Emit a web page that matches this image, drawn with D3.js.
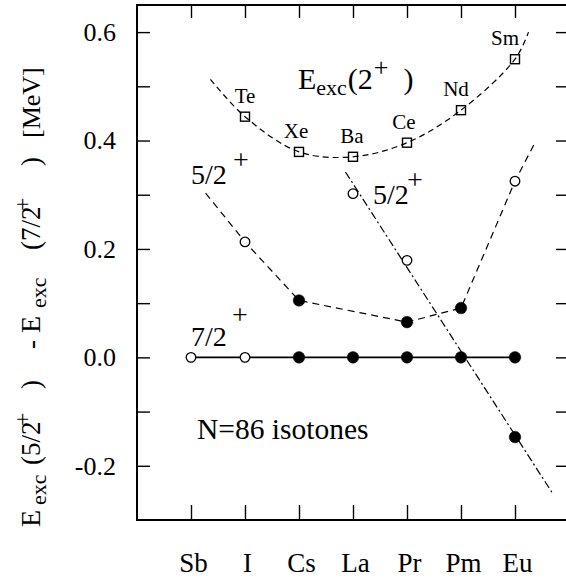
<!DOCTYPE html>
<html><head><meta charset="utf-8">
<script src="https://cdn.jsdelivr.net/npm/d3@7/dist/d3.min.js"></script>
<style>
html,body{margin:0;padding:0;background:#fff;}
svg text{font-family:"Liberation Serif","Times New Roman",serif;fill:#000;white-space:pre;}
</style></head>
<body><svg id="c" width="566" height="582"></svg>
<script>
// ---------- data ----------
const categories = ["Sb","I","Cs","La","Pr","Pm","Eu"];
const yTickValues = [-0.2,-0.1,0.0,0.1,0.2,0.3,0.4,0.5,0.6];
const yTickLabels = ["-0.2","0.0","0.2","0.4","0.6"];
const yLabelValues = [-0.2,0.0,0.2,0.4,0.6];

// 7/2+ reference line (all zero)
const ground = [0,0,0,0,0,0,0];
const groundOpen = [true,true,false,false,false,false,false];

// E_exc(2+) of even-even neighbours (squares) and their names
const e2Index = [1,2,3,4,5,6];
const e2Values = [0.444,0.379,0.370,0.396,0.456,0.550];
const e2Names = ["Te","Xe","Ba","Ce","Nd","Sm"];
// dashed guide curve through the squares
const e2CurveX = [0.36,1,2,3,4,5,6,6.25];
const e2CurveY = [0.513,0.444,0.379,0.370,0.396,0.456,0.550,0.600];

// 5/2+ branch (dashed)
const b1Index = [1,2,4,5,6];
const b1Values = [0.213,0.105,0.065,0.091,0.325];
const b1Open = [true,false,false,false,true];
const b1LineX = [0.27,1,2,4,5,6,6.39];
const b1LineY = [0.303,0.213,0.105,0.065,0.091,0.325,0.400];

// 5/2+ branch (dash-dot)
const b2Index = [3,4,6];
const b2Values = [0.302,0.179,-0.147];
const b2Open = [true,true,false];
const b2LineX = [2.86,6.71];
const b2LineY = [0.342,-0.253];

// ---------- layout ----------
const svg = d3.select("#c");
const L=137, R=568, T=5, B=520;
const x = d3.scaleLinear().domain([-1,7]).range([L,R+1]);
const y = d3.scaleLinear().domain([-0.3,0.65]).range([B,T]);
const FONT = "Liberation Serif";

// axes
const fmtY = v => { const i = yLabelValues.findIndex(u => Math.abs(u-v)<1e-9); return i<0 ? "" : yTickLabels[i]; };
const gL = svg.append("g").attr("transform",`translate(${L},0)`)
  .call(d3.axisLeft(y).tickValues(yTickValues).tickSize(-13).tickPadding(21).tickFormat(fmtY));
const gR = svg.append("g").attr("transform",`translate(${R},0)`)
  .call(d3.axisRight(y).tickValues(yTickValues).tickSize(-12).tickFormat(""));
const gB = svg.append("g").attr("transform",`translate(0,${B})`)
  .call(d3.axisBottom(x).tickValues(d3.range(categories.length)).tickSize(-15).tickPadding(33).tickFormat(i => categories[i]));
const gT = svg.append("g").attr("transform",`translate(0,${T})`)
  .call(d3.axisTop(x).tickValues(d3.range(categories.length)).tickSize(-13).tickFormat(""));
[gL,gR,gB,gT].forEach(g => {
  g.select(".domain").remove();
  g.selectAll(".tick line").attr("stroke","#000").attr("stroke-width",1.4);
});
gL.selectAll(".tick text").attr("font-family",FONT).attr("font-size",26).attr("fill","#000");
gB.selectAll(".tick text").attr("font-family",FONT).attr("font-size",27).attr("fill","#000").attr("dx",2);

svg.append("rect").attr("x",L).attr("y",T).attr("width",R-L).attr("height",B-T)
  .attr("fill","none").attr("stroke","#000").attr("stroke-width",2);

// lines
const line = d3.line().x(d=>x(d[0])).y(d=>y(d[1]));
svg.append("path").datum(e2CurveX.map((v,i)=>[v,e2CurveY[i]]))
  .attr("d", d3.line().x(d=>x(d[0])).y(d=>y(d[1])).curve(d3.curveCatmullRom.alpha(0.5)))
  .attr("fill","none").attr("stroke","#000").attr("stroke-width",1.2).attr("stroke-dasharray","6,4");
svg.append("path").datum(b1LineX.map((v,i)=>[v,b1LineY[i]]))
  .attr("d", line).attr("fill","none").attr("stroke","#000").attr("stroke-width",1.2).attr("stroke-dasharray","7,5");
svg.append("path").datum(b2LineX.map((v,i)=>[v,b2LineY[i]]))
  .attr("d", line).attr("fill","none").attr("stroke","#000").attr("stroke-width",1.2).attr("stroke-dasharray","8,3,2,3");
svg.append("path").datum(ground.map((v,i)=>[i,v]))
  .attr("d", line).attr("fill","none").attr("stroke","#000").attr("stroke-width",1.6);

// markers
function circles(idx, vals, open){
  svg.append("g").selectAll("circle").data(idx.map((v,i)=>({i:v,v:vals[i],o:open[i]}))).join("circle")
    .attr("cx",d=>x(d.i)).attr("cy",d=>y(d.v)).attr("r",d=>d.o?4.8:5.8)
    .attr("fill",d=>d.o?"#fff":"#000").attr("stroke","#000").attr("stroke-width",d=>d.o?1.3:0.5);
}
circles(d3.range(categories.length), ground, groundOpen);
circles(b1Index, b1Values, b1Open);
circles(b2Index, b2Values, b2Open);

svg.append("g").selectAll("rect").data(e2Index.map((v,i)=>({i:v,v:e2Values[i]}))).join("rect")
  .attr("x",d=>x(d.i)-4.5).attr("y",d=>y(d.v)-4.5).attr("width",9).attr("height",9)
  .attr("fill","none").attr("stroke","#000").attr("stroke-width",1.4);

const nameShift = [0,-3,-1,-3,-5,-10];
svg.append("g").selectAll("text").data(e2Index.map((v,i)=>({i:v,v:e2Values[i],n:e2Names[i],s:nameShift[i]}))).join("text")
  .attr("x",d=>x(d.i)+d.s).attr("y",d=>y(d.v)-14).attr("text-anchor","middle")
  .attr("font-size",21).text(d=>d.n);

// annotations
const e2t = svg.append("text").attr("x",298).attr("y",89).attr("font-size",30);
e2t.append("tspan").text("E");
e2t.append("tspan").attr("font-size",22).attr("dy",6).text("exc");
e2t.append("tspan").attr("dy",-6).attr("dx",1).text("(2");
e2t.append("tspan").attr("font-size",26).attr("dy",-13).attr("dx",1).text("+");
e2t.append("tspan").attr("dy",13).text("  )");

svg.append("text").attr("x",191).attr("y",184).attr("font-size",28).text("5/2");
svg.append("text").attr("x",233).attr("y",169).attr("font-size",28).text("+");
svg.append("text").attr("x",373).attr("y",204).attr("font-size",28).text("5/2");
svg.append("text").attr("x",407).attr("y",189).attr("font-size",28).text("+");
svg.append("text").attr("x",191).attr("y",346).attr("font-size",28).text("7/2");
svg.append("text").attr("x",232).attr("y",324).attr("font-size",28).text("+");
svg.append("text").attr("x",197).attr("y",439).attr("font-size",29.5).text("N=86 isotones");

// y axis label, placed piece by piece along the axis (reading upward)
const yLabelPieces = [
  {t:"E",    at:527, fs:28, off:0},
  {t:"exc",  at:505, fs:22, off:6},
  {t:"(5/2", at:465, fs:27, off:0},
  {t:"+",    at:426, fs:24, off:-10},
  {t:")",    at:389, fs:27, off:0},
  {t:"-",    at:349, fs:27, off:0},
  {t:"E",    at:333, fs:28, off:0},
  {t:"exc",  at:308, fs:22, off:6},
  {t:"(7/2", at:250, fs:27, off:0},
  {t:"+",    at:211, fs:24, off:-10},
  {t:")",    at:166, fs:27, off:0},
  {t:"[MeV]",at:138, fs:26, off:0}
];
svg.append("g").selectAll("text").data(yLabelPieces).join("text")
  .attr("transform",d=>`translate(${40+d.off},${d.at}) rotate(-90)`)
  .attr("font-size",d=>d.fs).text(d=>d.t);
</script></body></html>
